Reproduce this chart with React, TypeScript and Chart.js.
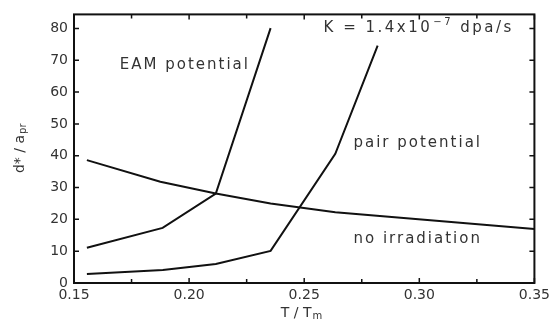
import React, { useEffect, useRef } from "react";
import { Chart, registerables } from "chart.js";
Chart.register(...registerables);

const noIrrX = [0.1556, 0.1875, 0.2116, 0.2354, 0.2635, 0.35];
const noIrrY = [38.6, 31.8, 28.1, 25.0, 22.2, 17.0];
const eamX = [0.1556, 0.1885, 0.2116, 0.2354];
const eamY = [11.1, 17.3, 28.1, 80.1];
const pairX = [0.1556, 0.1886, 0.2116, 0.2354, 0.2635, 0.2819];
const pairY = [2.8, 4.1, 6.0, 10.1, 40.6, 74.6];
const xTicks = [0.15, 0.2, 0.25, 0.3, 0.35];
const xTickLabels = ["0.15", "0.20", "0.25", "0.30", "0.35"];
const xMinor = [0.175, 0.225, 0.275, 0.325];
const yTicks = [0, 10, 20, 30, 40, 50, 60, 70, 80];
const annotations = [
  { text: "EAM potential", x: 0.1699, y: 68.6 },
  { text: "pair potential", x: 0.2714, y: 43.9 },
  { text: "no irradiation", x: 0.2714, y: 13.8 },
];

const FONT = "'DejaVu Sans', sans-serif";
const INK = "#333";

const toPts = (xs: number[], ys: number[]) => xs.map((x, i) => ({ x, y: ys[i] }));

const decor = {
  id: "decor",
  afterDraw(chart: any) {
    const { ctx, chartArea: a, scales } = chart;
    const xs = scales.x, ys = scales.y;
    ctx.save();
    ctx.strokeStyle = "#111";
    ctx.lineWidth = 2;
    ctx.strokeRect(a.left, a.top, a.right - a.left, a.bottom - a.top);
    ctx.lineWidth = 1.5;
    ctx.beginPath();
    [...xTicks, ...xMinor].forEach((v) => {
      const px = xs.getPixelForValue(v);
      const len = xTicks.includes(v) ? 5 : 4;
      ctx.moveTo(px, a.bottom); ctx.lineTo(px, a.bottom - len);
      ctx.moveTo(px, a.top); ctx.lineTo(px, a.top + len);
    });
    yTicks.forEach((v) => {
      const py = ys.getPixelForValue(v);
      ctx.moveTo(a.left, py); ctx.lineTo(a.left + 5, py);
      ctx.moveTo(a.right, py); ctx.lineTo(a.right - 5, py);
    });
    ctx.stroke();
    ctx.fillStyle = INK;
    ctx.font = `15px ${FONT}`;
    (ctx as any).letterSpacing = "2px";
    ctx.textBaseline = "middle";
    ctx.textAlign = "left";
    annotations.forEach((an) => {
      ctx.fillText(an.text, xs.getPixelForValue(an.x), ys.getPixelForValue(an.y));
    });
    // K label
    const kx = xs.getPixelForValue(0.2584);
    const ky = ys.getPixelForValue(80.2);
    (ctx as any).letterSpacing = "2.5px";
    const s1 = "K = 1.4x10";
    ctx.fillText(s1, kx, ky);
    const w = ctx.measureText(s1).width;
    ctx.font = `10px ${FONT}`;
    ctx.fillText("\u22127", kx + w + 1, ky - 5);
    const w2 = ctx.measureText("\u22127").width;
    ctx.font = `15px ${FONT}`;
    ctx.fillText(" dpa/s", kx + w + w2 + 1, ky);
    (ctx as any).letterSpacing = "0px";
    // axis titles
    ctx.font = `14px ${FONT}`;
    ctx.textAlign = "center";
    const tx = (a.left + a.right) / 2 - 8;
    ctx.fillText("T / T", tx, 313);
    const wt = ctx.measureText("T / T").width;
    ctx.font = `10px ${FONT}`;
    ctx.textAlign = "left";
    ctx.fillText("m", tx + wt / 2 + 1, 316);
    ctx.save();
    ctx.translate(20, 150);
    ctx.rotate(-Math.PI / 2);
    ctx.font = `14px ${FONT}`;
    ctx.textAlign = "center";
    ctx.fillText("d* / a", -4, 0);
    const wy = ctx.measureText("d* / a").width;
    ctx.font = `10px ${FONT}`;
    ctx.textAlign = "left";
    ctx.fillText("pr", -4 + wy / 2 + 1, 3);
    ctx.restore();
    ctx.restore();
  },
};

export default function App() {
  const ref = useRef<HTMLCanvasElement>(null);
  useEffect(() => {
    document.body.style.margin = "0";
    const ds = (data: any) => ({
      data,
      borderColor: "#111",
      borderWidth: 2,
      pointRadius: 0,
      fill: false,
      tension: 0,
    });
    const chart = new Chart(ref.current!, {
      type: "line",
      data: {
        datasets: [ds(toPts(noIrrX, noIrrY)), ds(toPts(eamX, eamY)), ds(toPts(pairX, pairY))],
      },
      options: {
        animation: false,
        responsive: false,
        layout: { padding: { left: 0, right: 17, top: 14, bottom: 0 } },
        plugins: { legend: { display: false }, tooltip: { enabled: false } },
        scales: {
          x: {
            type: "linear",
            min: 0.15,
            max: 0.35,
            grid: { display: false, drawTicks: false },
            border: { display: false },
            afterBuildTicks: (s: any) => { s.ticks = xTicks.map((v) => ({ value: v })); },
            afterFit: (s: any) => { s.height = 43; },
            ticks: {
              padding: 4,
              color: INK,
              font: { family: FONT, size: 14 },
              maxRotation: 0,
              callback: (v: any) => xTickLabels[xTicks.findIndex((t) => Math.abs(t - v) < 1e-6)],
            },
          },
          y: {
            type: "linear",
            min: 0,
            max: 84.4,
            grid: { display: false, drawTicks: false },
            border: { display: false },
            afterBuildTicks: (s: any) => { s.ticks = yTicks.map((v) => ({ value: v })); },
            afterFit: (s: any) => { s.width = 74; },
            ticks: { padding: 6, color: INK, font: { family: FONT, size: 14 } },
          },
        },
      },
      plugins: [decor],
    });
    return () => chart.destroy();
  }, []);
  return (
    <div style={{ position: "absolute", left: 0, top: 0, width: 554, height: 326, background: "#fff" }}>
      <canvas ref={ref} width={554} height={326} />
    </div>
  );
}
